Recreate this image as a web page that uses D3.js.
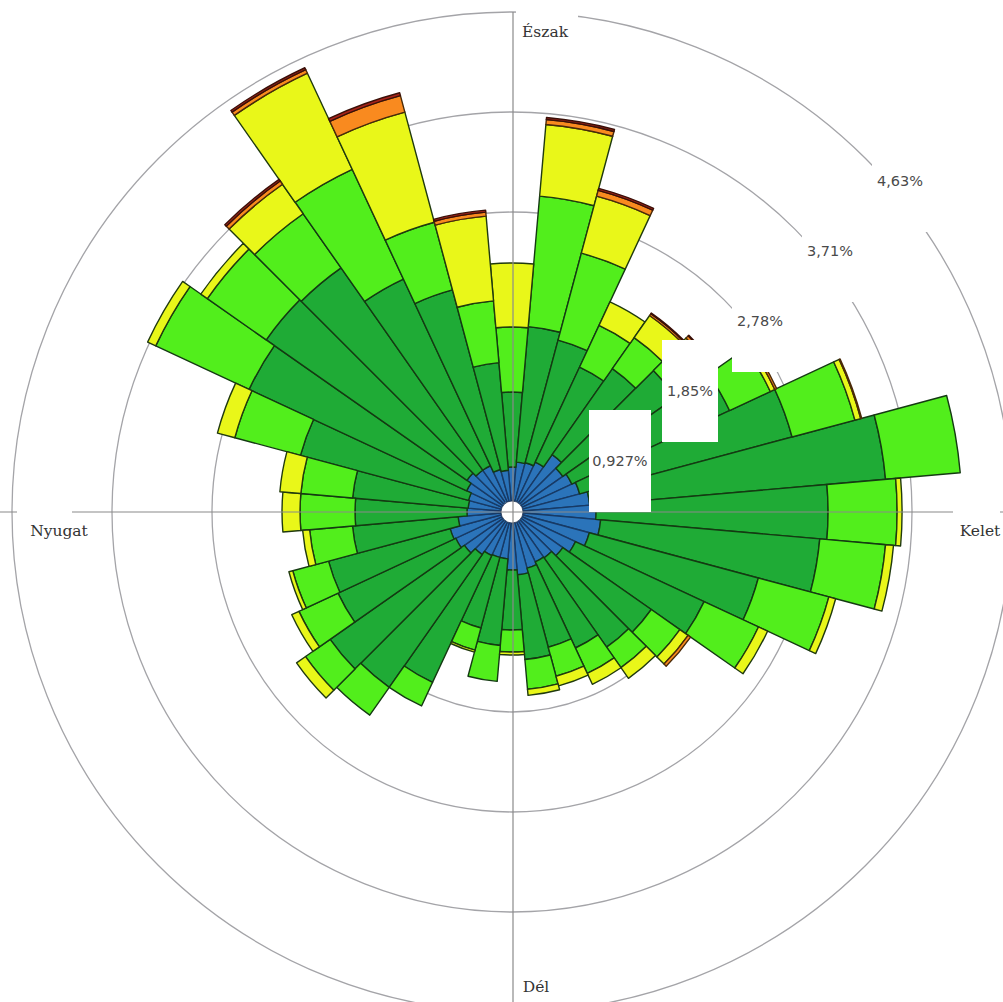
<!DOCTYPE html>
<html><head><meta charset="utf-8">
<script src="https://cdn.jsdelivr.net/npm/d3@7"></script>
<style>body{margin:0;background:#fff}svg{display:block}</style>
</head><body>
<svg id="chart" width="1003" height="1002"></svg>
<script>
// ---- data (percent of time per direction sector and speed class) ----
const directions = [0,10,20,30,40,50,60,70,80,90,100,110,120,130,140,150,160,170,180,190,200,210,220,230,240,250,260,270,280,290,300,310,320,330,340,350];
const speedClasses = ["c1","c2","c3","c4","c5","c6"];
const c1 = [0.417,0.464,0.473,0.510,0.649,0.575,0.612,0.649,0.723,0.779,0.825,0.742,0.649,0.575,0.519,0.510,0.538,0.584,0.538,0.436,0.436,0.445,0.482,0.538,0.575,0.593,0.501,0.417,0.408,0.417,0.464,0.510,0.473,0.473,0.408,0.389];
const c2 = [0.695,1.261,1.177,0.973,0.973,1.279,1.613,2.039,2.753,2.151,2.039,1.622,1.316,1.001,1.010,0.881,0.760,0.788,0.556,0.806,0.677,1.298,1.502,1.520,1.205,1.168,0.983,1.038,1.075,1.613,2.225,2.271,2.290,1.910,1.724,1.001];
const c3 = [0.603,1.214,0.834,0.426,0.352,0.297,0.417,0.603,0.695,0.640,0.612,0.677,0.556,0.324,0.232,0.260,0.278,0.278,0.204,0.334,0.213,0.241,0.315,0.278,0.399,0.343,0.399,0.510,0.482,0.630,0.955,0.667,0.612,1.122,0.649,0.575];
const c4 = [0.593,0.667,0.547,0.241,0.250,0.130,0.046,0.056,0.000,0.046,0.074,0.065,0.093,0.093,0.121,0.111,0.093,0.056,0.028,0.000,0.019,0.000,0.000,0.102,0.074,0.037,0.065,0.167,0.195,0.167,0.083,0.074,0.334,0.983,1.057,0.788];
const c5 = [0,0.046,0.056,0,0.019,0.028,0.019,0.009,0,0,0,0,0,0.028,0,0,0,0,0,0,0,0,0,0,0,0,0,0,0,0,0,0,0.037,0.037,0.158,0.037];
const c6 = [0,0.019,0.019,0,0.009,0.009,0,0,0,0,0,0,0,0,0,0,0,0,0,0,0,0,0,0,0,0,0,0,0,0,0,0,0.019,0.019,0.028,0.019];
const ringValues = [0.927,1.854,2.781,3.708,4.635];
const ringLabels = ["0,927%","1,85%","2,78%","3,71%","4,63%"];
const compassNames = ["Észak","Kelet","Dél","Nyugat"];

// ---- style ----
const colors = ["#2b74ba","#1fab36","#52ee1c","#e9f719","#f98a1f","#a8231a"];
const strokes = ["#173a66","#143a12","#143a12","#203a0e","#4a2a08","#3a1008"];
const cx = 512, cy = 512;

const svg = d3.select("#chart");
const table = directions.map((d,i)=>({dir:d,c1:c1[i],c2:c2[i],c3:c3[i],c4:c4[i],c5:c5[i],c6:c6[i]}));
const stacked = d3.stack().keys(speedClasses)(table);

const r = d3.scaleLinear().domain([0, 4.635]).range([0, 500]);
const ang = d3.scaleLinear().domain([0, 360]).range([0, 2*Math.PI]);
const g = svg.append("g").attr("transform", `translate(${cx},${cy})`);

// grid rings
g.selectAll("circle.ring").data(ringValues).join("circle")
  .attr("class","ring").attr("r", d=>r(d))
  .attr("fill","none").attr("stroke","#a4a4a8").attr("stroke-width",1.3);

// axes
svg.append("line").attr("x1",513).attr("x2",513).attr("y1",cy - r(4.635)).attr("y2",1002)
  .attr("stroke","#8a8a8a").attr("stroke-width",1.2);
svg.append("line").attr("x1",0).attr("x2",1003).attr("y1",512).attr("y2",512)
  .attr("stroke","#8a8a8a").attr("stroke-width",1.2);

// bars
const arc = d3.arc()
  .innerRadius(d=>r(d[0])).outerRadius(d=>r(d[1]))
  .startAngle(d=>ang(d.data.dir-5)).endAngle(d=>ang(d.data.dir+5));
stacked.forEach((layer, li)=>{
  g.append("g").selectAll("path").data(layer.filter(d=>d[1]-d[0]>0)).join("path")
    .attr("d", arc).attr("fill", colors[li])
    .attr("stroke", strokes[li]).attr("stroke-width", 1.4).attr("stroke-linejoin","round");
});
g.append("circle").attr("r",11).attr("fill","#fff").attr("stroke","#1a3050").attr("stroke-width",0.8);

// ring labels with white boxes
ringLabels.forEach((t,i)=>{
  const x = 620 + 70*i, y = 461 - 70*i;
  const w = (i===0?62:56);
  svg.append("rect").attr("x",x-w/2).attr("y",y-51).attr("width",w).attr("height",102).attr("fill","#fff");
  svg.append("text").attr("x",x).attr("y",y+5).attr("text-anchor","middle")
    .attr("font-family","DejaVu Sans, Verdana, sans-serif").attr("font-size",14.5)
    .attr("fill","#4a4a4a").text(t);
});

// compass labels
const compassPos = [[545,37],[980,536],[536,992],[59,536]];
const compassGaps = [[516,4,62,20],[953,505,47,14],[536,1000,1,1],[17,505,55,14]];
compassNames.forEach((t,i)=>{
  const gp = compassGaps[i];
  svg.append("rect").attr("x",gp[0]).attr("y",gp[1]).attr("width",gp[2]).attr("height",gp[3]).attr("fill","#fff");
  svg.append("text").attr("x",compassPos[i][0]).attr("y",compassPos[i][1]).attr("text-anchor","middle")
    .attr("font-family","DejaVu Serif, serif").attr("font-size",15.5).attr("fill","#333").text(t);
});
</script>
</body></html>
